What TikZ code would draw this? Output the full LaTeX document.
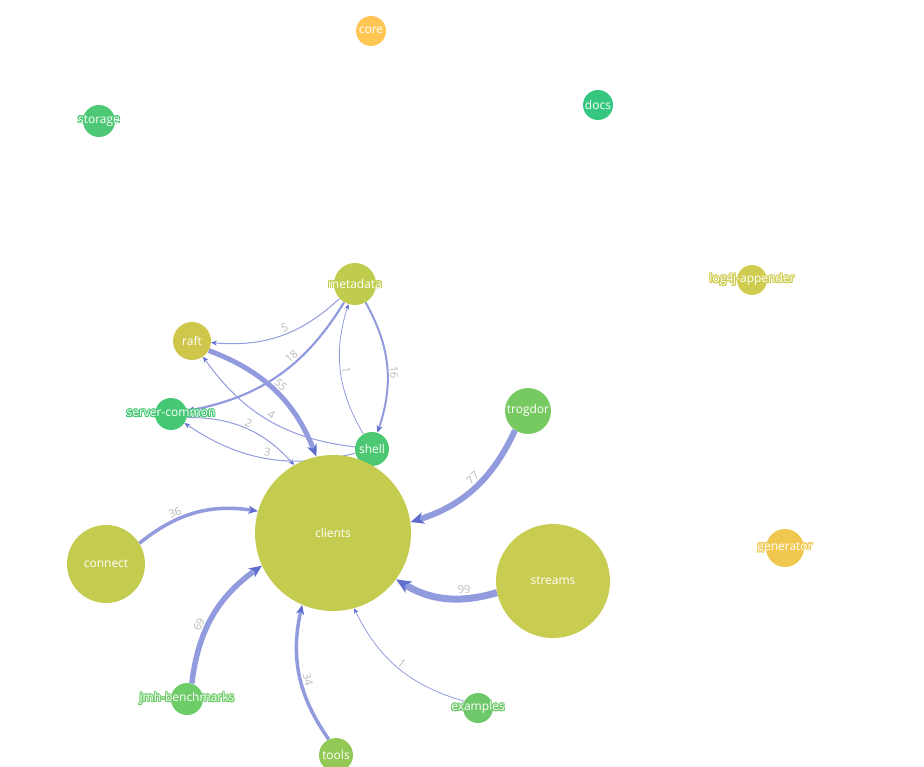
\documentclass[tikz,border=0pt]{standalone}
\usepackage{fontspec}
\setmainfont{Open Sans}
\usepackage[copies]{contour}
\contourlength{0.9pt}
\usepackage{tikz}
\usetikzlibrary{arrows.meta,backgrounds}

\definecolor{edgeblue}{RGB}{145,155,221}
\definecolor{tipblue}{RGB}{95,110,206}
\definecolor{numgray}{RGB}{185,185,185}
\definecolor{cCore}{RGB}{255,198,84}
\definecolor{cStorage}{RGB}{77,200,116}
\definecolor{cDocs}{RGB}{53,199,127}
\definecolor{cLog}{RGB}{208,204,80}
\definecolor{cMeta}{RGB}{191,204,77}
\definecolor{cRaft}{RGB}{207,199,75}
\definecolor{cCommon}{RGB}{69,200,115}
\definecolor{cShell}{RGB}{76,200,115}
\definecolor{cTrog}{RGB}{119,202,97}
\definecolor{cClients}{RGB}{195,204,79}
\definecolor{cConnect}{RGB}{195,204,79}
\definecolor{cStreams}{RGB}{200,204,80}
\definecolor{cGen}{RGB}{240,200,80}
\definecolor{cJmh}{RGB}{108,204,104}
\definecolor{cTools}{RGB}{146,201,86}
\definecolor{cEx}{RGB}{108,200,104}

\newcommand{\pkgtext}[2]{\makebox[0pt]{\contour{#1}{#2}}}

\begin{document}
\begin{tikzpicture}[
    x=1pt, y=1pt,
    pkg/.style={circle, fill=#1, draw=none, inner sep=0pt, text=white, font=\fontsize{12}{14}\selectfont},
    dep/.style={draw=edgeblue, line width=#1, -{Stealth[length=4pt 1.6, width'=0pt .85, inset'=0pt .3, color=tipblue]}},
    num/.style={font=\fontsize{11}{13}\selectfont, text=numgray, sloped, above, inner sep=1.5pt},
    every to/.style={bend left=24},
]
\useasboundingbox (0,0) rectangle (924,-767);

% Isolated packages
\node[pkg=cCore, minimum size=30pt] (core) at (371,-31) {\pkgtext{cCore}{core}};
\node[pkg=cStorage, minimum size=32pt] (storage) at (99,-121) {\pkgtext{cStorage}{storage}};
\node[pkg=cDocs, minimum size=30pt] (docs) at (598,-105) {\pkgtext{cDocs}{docs}};
\node[pkg=cLog, minimum size=30pt] (log4j) at (752,-280) {\pkgtext{cLog}{log4j-appender}};
\node[pkg=cGen, minimum size=38pt] (generator) at (785,-548) {\pkgtext{cGen}{generator}};

% Core cluster
\node[pkg=cMeta, minimum size=42pt] (metadata) at (355,-284) {\pkgtext{cMeta}{metadata}};
\node[pkg=cRaft, minimum size=38pt] (raft) at (192,-341) {\pkgtext{cRaft}{raft}};
\node[pkg=cCommon, minimum size=32pt] (common) at (171,-414) {\pkgtext{cCommon}{server-common}};
\node[pkg=cShell, minimum size=34pt] (shell) at (372,-449) {\pkgtext{cShell}{shell}};
\node[pkg=cTrog, minimum size=46pt] (trogdor) at (528,-411) {\pkgtext{cTrog}{trogdor}};
\node[pkg=cClients, minimum size=156pt] (clients) at (333,-533) {\pkgtext{cClients}{clients}};
\node[pkg=cConnect, minimum size=78pt] (connect) at (106,-564) {\pkgtext{cConnect}{connect}};
\node[pkg=cStreams, minimum size=114pt] (streams) at (553,-581) {\pkgtext{cStreams}{streams}};
\node[pkg=cJmh, minimum size=32pt] (jmh) at (187,-699) {\pkgtext{cJmh}{jmh-benchmarks}};
\node[pkg=cTools, minimum size=34pt] (tools) at (336,-755) {\pkgtext{cTools}{tools}};
\node[pkg=cEx, minimum size=30pt] (examples) at (478,-708) {\pkgtext{cEx}{examples}};

\begin{scope}[on background layer]
% Dependencies into clients
\draw[dep=7] (streams) to node[num, pos=.3] {99} (clients);
\draw[dep=6] (trogdor) to node[num, pos=.45] {77} (clients);
\draw[dep=5.5] (jmh) to node[num, pos=.4] {69} (clients);
\draw[dep=5] (raft) to node[num, pos=.5] {55} (clients);
\draw[dep=3.5] (connect) to node[num, pos=.35] {36} (clients);
\draw[dep=3.5] (tools) to node[num, pos=.45] {34} (clients);
\draw[dep=.8] (examples) to node[num, pos=.5] {1} (clients);
\draw[dep=1] (common) to node[num, pos=.5] {2} (clients);

% Metadata, raft, shell, server-common
\draw[dep=2.2] (metadata) to node[num, pos=.38] {18} (common);
\draw[dep=2] (metadata) to node[num, pos=.55] {16} (shell);
\draw[dep=1] (metadata) to node[num, pos=.45] {5} (raft);
\draw[dep=.8] (shell) to node[num, pos=.5] {1} (metadata);
\draw[dep=1] (shell) to node[num, pos=.5] {4} (raft);
\draw[dep=1] (shell) to node[num, pos=.5] {3} (common);
\end{scope}

\end{tikzpicture}
\end{document}
